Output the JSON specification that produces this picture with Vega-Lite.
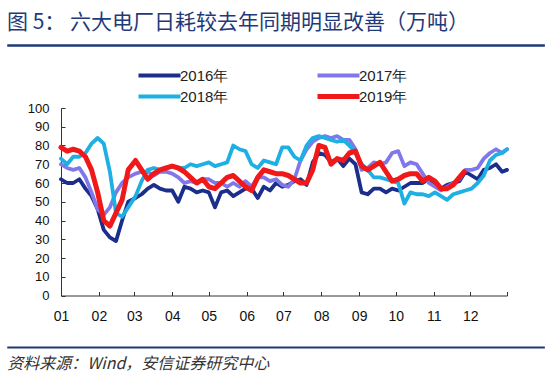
{
  "$schema": "https://vega.github.io/schema/vega-lite/v6.json",
  "width": 446,
  "height": 187.5,
  "autosize": {"type": "none"},
  "padding": {"left": 61, "top": 108, "right": 43, "bottom": 81},
  "background": "white",
  "config": {
    "view": {"stroke": null},
    "font": "Liberation Sans",
    "axis": {"labelOverlap": false, "labelFlush": false, "labelBound": false, "grid": false, "tickSize": -4, "tickCount": 30, "domainColor": "#333333", "tickColor": "#333333", "labelColor": "#111111", "labelFont": "Liberation Sans", "title": null},
    "axisX": {"labelPadding": 18, "labelFontSize": 14},
    "axisY": {"labelPadding": 16, "labelFontSize": 13}
  },
  "title": {"text": "图 5：   六大电厂日耗较去年同期明显改善（万吨）", "anchor": "start", "frame": "group", "dx": -54, "offset": 11, "font": "Noto Sans CJK SC", "fontSize": 21, "fontWeight": "normal", "color": "#1F3A7A"},
  "datasets": {
    "coal": [
      {"series":"2016年","date":"2016-01-01","value":62},{"series":"2016年","date":"2016-01-06","value":60},{"series":"2016年","date":"2016-01-11","value":60},{"series":"2016年","date":"2016-01-16","value":62},{"series":"2016年","date":"2016-01-21","value":57},{"series":"2016年","date":"2016-01-26","value":53},{"series":"2016年","date":"2016-01-31","value":46},{"series":"2016年","date":"2016-02-05","value":35},{"series":"2016年","date":"2016-02-10","value":31},{"series":"2016年","date":"2016-02-15","value":29},
      {"series":"2016年","date":"2016-02-20","value":40},{"series":"2016年","date":"2016-02-25","value":50},{"series":"2016年","date":"2016-03-02","value":52},{"series":"2016年","date":"2016-03-07","value":54},{"series":"2016年","date":"2016-03-12","value":57},{"series":"2016年","date":"2016-03-17","value":59},{"series":"2016年","date":"2016-03-22","value":57},{"series":"2016年","date":"2016-03-27","value":56},{"series":"2016年","date":"2016-04-01","value":56},{"series":"2016年","date":"2016-04-06","value":50},
      {"series":"2016年","date":"2016-04-11","value":58},{"series":"2016年","date":"2016-04-16","value":57},{"series":"2016年","date":"2016-04-21","value":55},{"series":"2016年","date":"2016-04-26","value":56},{"series":"2016年","date":"2016-05-01","value":55},{"series":"2016年","date":"2016-05-06","value":47},{"series":"2016年","date":"2016-05-11","value":55},{"series":"2016年","date":"2016-05-16","value":56},{"series":"2016年","date":"2016-05-21","value":53},{"series":"2016年","date":"2016-05-26","value":55},
      {"series":"2016年","date":"2016-05-31","value":57},{"series":"2016年","date":"2016-06-05","value":57},{"series":"2016年","date":"2016-06-10","value":52},{"series":"2016年","date":"2016-06-15","value":58},{"series":"2016年","date":"2016-06-20","value":56},{"series":"2016年","date":"2016-06-25","value":60},{"series":"2016年","date":"2016-06-30","value":58},{"series":"2016年","date":"2016-07-05","value":59},{"series":"2016年","date":"2016-07-10","value":61},{"series":"2016年","date":"2016-07-15","value":62},
      {"series":"2016年","date":"2016-07-20","value":59},{"series":"2016年","date":"2016-07-25","value":71},{"series":"2016年","date":"2016-07-30","value":76},{"series":"2016年","date":"2016-08-04","value":75},{"series":"2016年","date":"2016-08-09","value":71},{"series":"2016年","date":"2016-08-14","value":73},{"series":"2016年","date":"2016-08-19","value":69},{"series":"2016年","date":"2016-08-24","value":73},{"series":"2016年","date":"2016-08-29","value":70},{"series":"2016年","date":"2016-09-03","value":55},
      {"series":"2016年","date":"2016-09-08","value":54},{"series":"2016年","date":"2016-09-13","value":57},{"series":"2016年","date":"2016-09-18","value":57},{"series":"2016年","date":"2016-09-23","value":55},{"series":"2016年","date":"2016-09-28","value":57},{"series":"2016年","date":"2016-10-03","value":56},{"series":"2016年","date":"2016-10-08","value":58},{"series":"2016年","date":"2016-10-13","value":60},{"series":"2016年","date":"2016-10-18","value":60},{"series":"2016年","date":"2016-10-23","value":60},
      {"series":"2016年","date":"2016-10-28","value":62},{"series":"2016年","date":"2016-11-02","value":60},{"series":"2016年","date":"2016-11-07","value":57},{"series":"2016年","date":"2016-11-12","value":59},{"series":"2016年","date":"2016-11-17","value":60},{"series":"2016年","date":"2016-11-22","value":61},{"series":"2016年","date":"2016-11-27","value":66},{"series":"2016年","date":"2016-12-02","value":64},{"series":"2016年","date":"2016-12-07","value":62},{"series":"2016年","date":"2016-12-12","value":67},
      {"series":"2016年","date":"2016-12-17","value":68},{"series":"2016年","date":"2016-12-22","value":70},{"series":"2016年","date":"2016-12-27","value":66},{"series":"2016年","date":"2016-12-31","value":67},

      {"series":"2017年","date":"2017-01-01","value":70},{"series":"2017年","date":"2017-01-06","value":68},{"series":"2017年","date":"2017-01-11","value":67},{"series":"2017年","date":"2017-01-16","value":68},{"series":"2017年","date":"2017-01-21","value":63},{"series":"2017年","date":"2017-01-26","value":55},{"series":"2017年","date":"2017-01-31","value":46},{"series":"2017年","date":"2017-02-05","value":43},{"series":"2017年","date":"2017-02-10","value":47},{"series":"2017年","date":"2017-02-15","value":55},
      {"series":"2017年","date":"2017-02-20","value":60},{"series":"2017年","date":"2017-02-25","value":63},{"series":"2017年","date":"2017-03-02","value":65},{"series":"2017年","date":"2017-03-07","value":66},{"series":"2017年","date":"2017-03-12","value":66},{"series":"2017年","date":"2017-03-17","value":64},{"series":"2017年","date":"2017-03-22","value":66},{"series":"2017年","date":"2017-03-27","value":66},{"series":"2017年","date":"2017-04-01","value":65},{"series":"2017年","date":"2017-04-06","value":63},
      {"series":"2017年","date":"2017-04-11","value":60},{"series":"2017年","date":"2017-04-16","value":61},{"series":"2017年","date":"2017-04-21","value":60},{"series":"2017年","date":"2017-04-26","value":62},{"series":"2017年","date":"2017-05-01","value":62},{"series":"2017年","date":"2017-05-06","value":60},{"series":"2017年","date":"2017-05-11","value":60},{"series":"2017年","date":"2017-05-16","value":58},{"series":"2017年","date":"2017-05-21","value":60},{"series":"2017年","date":"2017-05-26","value":58},
      {"series":"2017年","date":"2017-05-31","value":61},{"series":"2017年","date":"2017-06-05","value":58},{"series":"2017年","date":"2017-06-10","value":63},{"series":"2017年","date":"2017-06-15","value":63},{"series":"2017年","date":"2017-06-20","value":61},{"series":"2017年","date":"2017-06-25","value":62},{"series":"2017年","date":"2017-06-30","value":59},{"series":"2017年","date":"2017-07-05","value":58},{"series":"2017年","date":"2017-07-10","value":62},{"series":"2017年","date":"2017-07-15","value":72},
      {"series":"2017年","date":"2017-07-20","value":78},{"series":"2017年","date":"2017-07-25","value":82},{"series":"2017年","date":"2017-07-30","value":84},{"series":"2017年","date":"2017-08-04","value":85},{"series":"2017年","date":"2017-08-09","value":84},{"series":"2017年","date":"2017-08-14","value":85},{"series":"2017年","date":"2017-08-19","value":83},{"series":"2017年","date":"2017-08-24","value":83},{"series":"2017年","date":"2017-08-29","value":78},{"series":"2017年","date":"2017-09-03","value":67},
      {"series":"2017年","date":"2017-09-08","value":68},{"series":"2017年","date":"2017-09-13","value":71},{"series":"2017年","date":"2017-09-18","value":70},{"series":"2017年","date":"2017-09-23","value":71},{"series":"2017年","date":"2017-09-28","value":76},{"series":"2017年","date":"2017-10-03","value":77},{"series":"2017年","date":"2017-10-08","value":69},{"series":"2017年","date":"2017-10-13","value":71},{"series":"2017年","date":"2017-10-18","value":70},{"series":"2017年","date":"2017-10-23","value":65},
      {"series":"2017年","date":"2017-10-28","value":60},{"series":"2017年","date":"2017-11-02","value":58},{"series":"2017年","date":"2017-11-07","value":56},{"series":"2017年","date":"2017-11-12","value":58},{"series":"2017年","date":"2017-11-17","value":60},{"series":"2017年","date":"2017-11-22","value":62},{"series":"2017年","date":"2017-11-27","value":67},{"series":"2017年","date":"2017-12-02","value":67},{"series":"2017年","date":"2017-12-07","value":68},{"series":"2017年","date":"2017-12-12","value":73},
      {"series":"2017年","date":"2017-12-17","value":76},{"series":"2017年","date":"2017-12-22","value":78},{"series":"2017年","date":"2017-12-27","value":76},{"series":"2017年","date":"2017-12-31","value":78},

      {"series":"2018年","date":"2018-01-01","value":73},{"series":"2018年","date":"2018-01-06","value":70},{"series":"2018年","date":"2018-01-11","value":74},{"series":"2018年","date":"2018-01-16","value":74},{"series":"2018年","date":"2018-01-21","value":76},{"series":"2018年","date":"2018-01-26","value":81},{"series":"2018年","date":"2018-01-31","value":84},{"series":"2018年","date":"2018-02-05","value":81},{"series":"2018年","date":"2018-02-10","value":66},{"series":"2018年","date":"2018-02-15","value":44},
      {"series":"2018年","date":"2018-02-20","value":42},{"series":"2018年","date":"2018-02-25","value":47},{"series":"2018年","date":"2018-03-02","value":53},{"series":"2018年","date":"2018-03-07","value":61},{"series":"2018年","date":"2018-03-12","value":67},{"series":"2018年","date":"2018-03-17","value":68},{"series":"2018年","date":"2018-03-22","value":67},{"series":"2018年","date":"2018-03-27","value":68},{"series":"2018年","date":"2018-04-01","value":69},{"series":"2018年","date":"2018-04-06","value":68},
      {"series":"2018年","date":"2018-04-11","value":68},{"series":"2018年","date":"2018-04-16","value":70},{"series":"2018年","date":"2018-04-21","value":69},{"series":"2018年","date":"2018-04-26","value":70},{"series":"2018年","date":"2018-05-01","value":71},{"series":"2018年","date":"2018-05-06","value":69},{"series":"2018年","date":"2018-05-11","value":70},{"series":"2018年","date":"2018-05-16","value":71},{"series":"2018年","date":"2018-05-21","value":80},{"series":"2018年","date":"2018-05-26","value":78},
      {"series":"2018年","date":"2018-05-31","value":77},{"series":"2018年","date":"2018-06-05","value":70},{"series":"2018年","date":"2018-06-10","value":68},{"series":"2018年","date":"2018-06-15","value":72},{"series":"2018年","date":"2018-06-20","value":71},{"series":"2018年","date":"2018-06-25","value":70},{"series":"2018年","date":"2018-06-30","value":79},{"series":"2018年","date":"2018-07-05","value":79},{"series":"2018年","date":"2018-07-10","value":74},{"series":"2018年","date":"2018-07-15","value":72},
      {"series":"2018年","date":"2018-07-20","value":80},{"series":"2018年","date":"2018-07-25","value":84},{"series":"2018年","date":"2018-07-30","value":85},{"series":"2018年","date":"2018-08-04","value":84},{"series":"2018年","date":"2018-08-09","value":83},{"series":"2018年","date":"2018-08-14","value":82},{"series":"2018年","date":"2018-08-19","value":83},{"series":"2018年","date":"2018-08-24","value":80},{"series":"2018年","date":"2018-08-29","value":76},{"series":"2018年","date":"2018-09-03","value":70},
      {"series":"2018年","date":"2018-09-08","value":67},{"series":"2018年","date":"2018-09-13","value":63},{"series":"2018年","date":"2018-09-18","value":63},{"series":"2018年","date":"2018-09-23","value":62},{"series":"2018年","date":"2018-09-28","value":61},{"series":"2018年","date":"2018-10-03","value":60},{"series":"2018年","date":"2018-10-08","value":49},{"series":"2018年","date":"2018-10-13","value":55},{"series":"2018年","date":"2018-10-18","value":54},{"series":"2018年","date":"2018-10-23","value":54},
      {"series":"2018年","date":"2018-10-28","value":53},{"series":"2018年","date":"2018-11-02","value":55},{"series":"2018年","date":"2018-11-07","value":53},{"series":"2018年","date":"2018-11-12","value":51},{"series":"2018年","date":"2018-11-17","value":54},{"series":"2018年","date":"2018-11-22","value":55},{"series":"2018年","date":"2018-11-27","value":56},{"series":"2018年","date":"2018-12-02","value":57},{"series":"2018年","date":"2018-12-07","value":60},{"series":"2018年","date":"2018-12-12","value":64},
      {"series":"2018年","date":"2018-12-17","value":72},{"series":"2018年","date":"2018-12-22","value":75},{"series":"2018年","date":"2018-12-27","value":76},{"series":"2018年","date":"2018-12-31","value":78},

      {"series":"2019年","date":"2019-01-01","value":79},{"series":"2019年","date":"2019-01-06","value":77},{"series":"2019年","date":"2019-01-11","value":78},{"series":"2019年","date":"2019-01-16","value":77},{"series":"2019年","date":"2019-01-21","value":74},{"series":"2019年","date":"2019-01-26","value":67},{"series":"2019年","date":"2019-01-31","value":55},{"series":"2019年","date":"2019-02-05","value":40},{"series":"2019年","date":"2019-02-10","value":37},{"series":"2019年","date":"2019-02-15","value":44},
      {"series":"2019年","date":"2019-02-20","value":51},{"series":"2019年","date":"2019-02-25","value":67},{"series":"2019年","date":"2019-03-02","value":72},{"series":"2019年","date":"2019-03-07","value":67},{"series":"2019年","date":"2019-03-12","value":62},{"series":"2019年","date":"2019-03-17","value":65},{"series":"2019年","date":"2019-03-22","value":67},{"series":"2019年","date":"2019-03-27","value":68},{"series":"2019年","date":"2019-04-01","value":69},{"series":"2019年","date":"2019-04-06","value":68},
      {"series":"2019年","date":"2019-04-11","value":66},{"series":"2019年","date":"2019-04-16","value":63},{"series":"2019年","date":"2019-04-21","value":60},{"series":"2019年","date":"2019-04-26","value":62},{"series":"2019年","date":"2019-05-01","value":58},{"series":"2019年","date":"2019-05-06","value":57},{"series":"2019年","date":"2019-05-11","value":60},{"series":"2019年","date":"2019-05-16","value":63},{"series":"2019年","date":"2019-05-21","value":64},{"series":"2019年","date":"2019-05-26","value":61},
      {"series":"2019年","date":"2019-05-31","value":58},{"series":"2019年","date":"2019-06-05","value":56},{"series":"2019年","date":"2019-06-10","value":63},{"series":"2019年","date":"2019-06-15","value":67},{"series":"2019年","date":"2019-06-20","value":66},{"series":"2019年","date":"2019-06-25","value":65},{"series":"2019年","date":"2019-06-30","value":65},{"series":"2019年","date":"2019-07-05","value":64},{"series":"2019年","date":"2019-07-10","value":62},{"series":"2019年","date":"2019-07-15","value":60},
      {"series":"2019年","date":"2019-07-20","value":60},{"series":"2019年","date":"2019-07-25","value":67},{"series":"2019年","date":"2019-07-30","value":80},{"series":"2019年","date":"2019-08-04","value":79},{"series":"2019年","date":"2019-08-09","value":70},{"series":"2019年","date":"2019-08-14","value":73},{"series":"2019年","date":"2019-08-19","value":72},{"series":"2019年","date":"2019-08-24","value":76},{"series":"2019年","date":"2019-08-29","value":77},{"series":"2019年","date":"2019-09-03","value":69},
      {"series":"2019年","date":"2019-09-08","value":67},{"series":"2019年","date":"2019-09-13","value":69},{"series":"2019年","date":"2019-09-18","value":71},{"series":"2019年","date":"2019-09-23","value":66},{"series":"2019年","date":"2019-09-28","value":61},{"series":"2019年","date":"2019-10-03","value":62},{"series":"2019年","date":"2019-10-08","value":64},{"series":"2019年","date":"2019-10-13","value":65},{"series":"2019年","date":"2019-10-18","value":65},{"series":"2019年","date":"2019-10-23","value":61},
      {"series":"2019年","date":"2019-10-28","value":63},{"series":"2019年","date":"2019-11-02","value":61},{"series":"2019年","date":"2019-11-07","value":57},{"series":"2019年","date":"2019-11-12","value":57},{"series":"2019年","date":"2019-11-17","value":59},{"series":"2019年","date":"2019-11-22","value":63},{"series":"2019年","date":"2019-11-26","value":66}
    ]
  },
  "layer": [
    {
      "data": {"name": "coal"},
      "mark": {"type": "line", "strokeCap": "round", "strokeJoin": "round"},
      "encoding": {
        "x": {
          "field": "date", "timeUnit": "utcmonthdate", "type": "temporal",
          "scale": {"domain": [{"year": 2012, "month": 1, "date": 1, "utc": true}, {"year": 2012, "month": 12, "date": 31, "utc": true}]},
          "axis": {
            "title": null, "grid": false, "tickCount": 30,
            "values": [
              {"year": 2012, "month": 1, "date": 1, "utc": true}, {"year": 2012, "month": 2, "date": 1, "utc": true}, {"year": 2012, "month": 3, "date": 1, "utc": true},
              {"year": 2012, "month": 4, "date": 1, "utc": true}, {"year": 2012, "month": 5, "date": 1, "utc": true}, {"year": 2012, "month": 6, "date": 1, "utc": true},
              {"year": 2012, "month": 7, "date": 1, "utc": true}, {"year": 2012, "month": 8, "date": 1, "utc": true}, {"year": 2012, "month": 9, "date": 1, "utc": true},
              {"year": 2012, "month": 10, "date": 1, "utc": true}, {"year": 2012, "month": 11, "date": 1, "utc": true}, {"year": 2012, "month": 12, "date": 1, "utc": true},
              {"year": 2012, "month": 12, "date": 31, "utc": true}
            ],
            "labelExpr": "utcdate(datum.value) == 1 ? utcFormat(datum.value, '%m') : ''",
            "labelFlush": false, "labelOverlap": false,
            "tickSize": -4, "labelPadding": 18
          }
        },
        "y": {
          "field": "value", "type": "quantitative",
          "scale": {"domain": [0, 100]},
          "axis": {
            "title": null, "grid": false, "tickCount": 30,
            "values": [0, 10, 20, 30, 40, 50, 60, 70, 80, 90, 100],
            "labelOverlap": false,
            "tickSize": -4, "labelPadding": 16
          }
        },
        "color": {
          "field": "series", "type": "nominal",
          "scale": {"domain": ["2016年", "2017年", "2018年", "2019年"], "range": ["#1C2E8C", "#8078EA", "#1EAFE3", "#F01818"]},
          "legend": {"title": null, "orient": "none", "legendX": 75, "legendY": -42, "direction": "horizontal", "columns": 2, "symbolType": "stroke", "symbolSize": 1764, "clipHeight": 19, "labelFont": "Liberation Sans", "labelFontSize": 15, "labelColor": "#222222", "labelOffset": -3, "columnPadding": 86, "rowPadding": 2, "padding": 0}
        },
        "strokeWidth": {
          "field": "series", "type": "nominal",
          "scale": {"type": "ordinal", "domain": ["2016年", "2017年", "2018年", "2019年"], "range": [3.8, 3.8, 3.8, 5]},
          "legend": {"title": null, "orient": "none", "legendX": 75, "legendY": -42, "direction": "horizontal", "columns": 2, "symbolType": "stroke", "symbolSize": 1764, "clipHeight": 19, "labelFont": "Liberation Sans", "labelFontSize": 15, "labelColor": "#222222", "labelOffset": -3, "columnPadding": 86, "rowPadding": 2, "padding": 0}
        }
      }
    },
    {
      "data": {"values": [{}]},
      "mark": {"type": "rule", "color": "#1F3A7A", "strokeWidth": 2.5},
      "encoding": {
        "x": {"datum": {"year": 2011, "month": 11, "date": 18, "utc": true}, "type": "temporal"},
        "x2": {"datum": {"year": 2013, "month": 1, "date": 31, "utc": true}},
        "y": {"datum": 133.3, "type": "quantitative"}
      }
    },
    {
      "data": {"values": [{}]},
      "mark": {"type": "rule", "color": "#1F3A7A", "strokeWidth": 2},
      "encoding": {
        "x": {"datum": {"year": 2011, "month": 11, "date": 18, "utc": true}, "type": "temporal"},
        "x2": {"datum": {"year": 2013, "month": 1, "date": 31, "utc": true}},
        "y": {"datum": -27.7, "type": "quantitative"}
      }
    },
    {
      "data": {"values": [{}]},
      "mark": {"type": "text", "align": "left", "baseline": "middle", "font": "Noto Sans CJK SC", "fontSize": 16, "fontStyle": "italic", "color": "#333333"},
      "encoding": {
        "x": {"datum": {"year": 2011, "month": 11, "date": 18, "utc": true}, "type": "temporal"},
        "y": {"datum": -36.3, "type": "quantitative"},
        "text": {"value": "资料来源：Wind，安信证券研究中心"}
      }
    }
  ]
}
